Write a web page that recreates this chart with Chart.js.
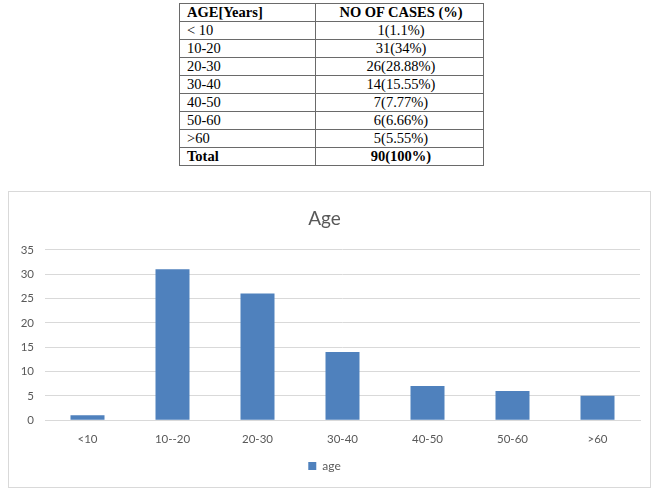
<!DOCTYPE html>
<html>
<head>
<meta charset="utf-8">
<script src="https://cdn.jsdelivr.net/npm/chart.js@4"></script>
<style>
  html, body { margin: 0; padding: 0; background: #fff; width: 655px; height: 489px; overflow: hidden; }
  #tbl { position: absolute; left: 179px; top: 3px; border-collapse: collapse; font-family: "Liberation Serif", "Times New Roman", serif; font-size: 14.5px; color: #000; }
  #tbl td { border: 1px solid #6a6a6a; height: 17px; padding: 0 4px 0 7px; line-height: 17px; }
  #tbl td.c1 { width: 124px; text-align: left; }
  #tbl td.c2 { width: 156px; text-align: center; }
  #tbl tr.b td { font-weight: bold; }
  #box { position: absolute; left: 8px; top: 191px; width: 641px; height: 295px; border: 1px solid #d9d9d9; }
  #wrap { position: absolute; left: 0; top: 0; width: 641px; height: 295px; }
</style>
</head>
<body>
<table id="tbl"></table>
<div id="box"><div id="wrap"><canvas id="c"></canvas></div></div>
<script>
const tableHeaders = ["AGE[Years]", "NO OF CASES (%)"];
const tableAges = ["< 10", "10-20", "20-30", "30-40", "40-50", "50-60", ">60", "Total"];
const tableCases = ["1(1.1%)", "31(34%)", "26(28.88%)", "14(15.55%)", "7(7.77%)", "6(6.66%)", "5(5.55%)", "90(100%)"];

const categories = ["<10", "10--20", "20-30", "30-40", "40-50", "50-60", ">60"];
const ageValues = [1, 31, 26, 14, 7, 6, 5];
const seriesName = "age";
const chartTitle = "Age";

// build table
const tbl = document.getElementById('tbl');
function addRow(a, b, bold) {
  const tr = document.createElement('tr');
  if (bold) tr.className = 'b';
  const t1 = document.createElement('td'); t1.className = 'c1'; t1.textContent = a;
  const t2 = document.createElement('td'); t2.className = 'c2'; t2.textContent = b;
  tr.appendChild(t1); tr.appendChild(t2); tbl.appendChild(tr);
}
addRow(tableHeaders[0], tableHeaders[1], true);
tableAges.forEach((a, i) => addRow(a, tableCases[i], i === tableAges.length - 1));

const txt = '#595959';
const fam = 'Lato, "Open Sans", sans-serif';
new Chart(document.getElementById('c'), {
  type: 'bar',
  data: {
    labels: categories,
    datasets: [{
      label: seriesName,
      data: ageValues,
      backgroundColor: '#4f81bd',
      barPercentage: 0.4,
      categoryPercentage: 1.0
    }]
  },
  options: {
    responsive: true,
    maintainAspectRatio: false,
    animation: false,
    layout: { padding: { top: 15, right: 10, left: 0, bottom: 5 } },
    plugins: {
      title: { display: true, text: chartTitle, color: txt, font: { family: fam, size: 19, weight: 'normal' }, padding: { top: 0, bottom: 20 } },
      legend: { position: 'bottom', labels: { boxWidth: 8, boxHeight: 8, color: txt, font: { family: fam, size: 12 }, padding: 10 } },
      tooltip: { enabled: false }
    },
    scales: {
      x: {
        grid: { display: false },
        border: { color: '#d9d9d9' },
        ticks: { color: txt, font: { family: fam, size: 11.5 }, padding: 4 }
      },
      y: {
        min: 0, max: 35,
        border: { display: false },
        grid: { color: '#d9d9d9', drawTicks: false },
        ticks: { stepSize: 5, color: txt, font: { family: fam, size: 11.5 }, padding: 11 },
        afterFit: (s) => { s.width = 36; }
      }
    }
  }
});
</script>
</body>
</html>
